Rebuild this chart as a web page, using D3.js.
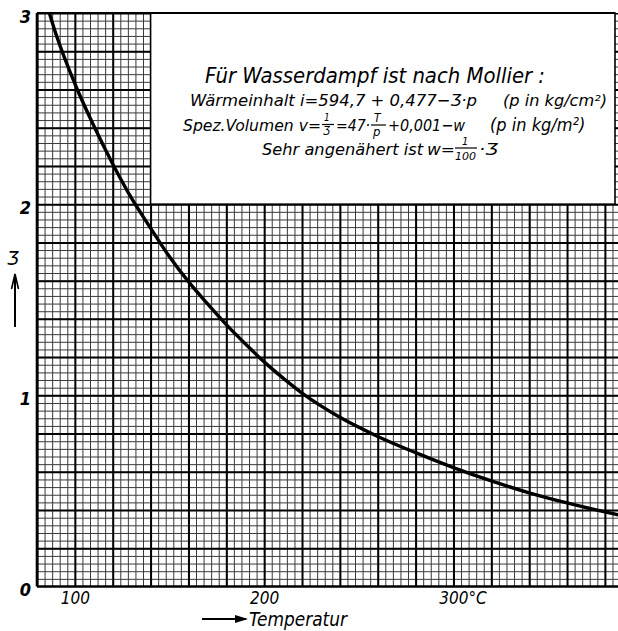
<!DOCTYPE html>
<html><head><meta charset="utf-8">
<script src="https://cdn.jsdelivr.net/npm/d3@7"></script>
<style>
html,body{margin:0;padding:0;background:#fff;}
text{font-family:"DejaVu Sans Condensed","Liberation Sans Narrow","DejaVu Sans",sans-serif;font-style:italic;fill:#000;}
</style></head>
<body>
<svg id="c" width="618" height="631"></svg>
<script>
// ---- data ----
const temperatures = [85, 90, 100, 110, 120, 130, 140, 150, 160, 170, 180, 190, 200, 210, 220, 230, 240, 260, 280, 300, 320, 340, 360, 380, 390];
const jValues      = [3.05, 2.89, 2.63, 2.41, 2.21, 2.03, 1.875, 1.725, 1.595, 1.48, 1.37, 1.27, 1.175, 1.09, 1.012, 0.945, 0.885, 0.785, 0.70, 0.622, 0.552, 0.49, 0.437, 0.39, 0.368];
const xTickValues = [100, 200, 300];
const xTickLabels = ["100", "200", "300"];
const yTickValues = [0, 1, 2, 3];
const yTickLabels = ["0", "1", "2", "3"];
const xAxisTitle = "Temperatur";
const unitLabel = "°C";
const yAxisTitle = "Ʒ";

const svg = d3.select("#c");
const W = 618, H = 631;
const x = d3.scaleLinear().domain([80, 400]).range([37, 37 + 320 * 1.893]);
const y = d3.scaleLinear().domain([0, 3]).range([586.5, 13]);
const plotH = y(0) - y(3);

svg.append("defs").append("clipPath").attr("id", "plot")
  .append("rect").attr("x", x(80)).attr("y", y(3)).attr("width", W - x(80)).attr("height", plotH);

const g = svg.append("g").attr("clip-path", "url(#plot)");

const minorX = d3.range(80, 400.001, 4);
const minorY = d3.range(0, 3.0001, 0.04);
const majorX = d3.range(80, 400.001, 20);
const majorY = d3.range(0, 3.0001, 0.2);

function grid(vals, isX, w, col) {
  const ax = isX ? d3.axisBottom(x).tickValues(vals).tickSize(-plotH).tickFormat("")
                 : d3.axisLeft(y).tickValues(vals).tickSize(-(W - x(80))).tickFormat("");
  const gg = g.append("g")
    .attr("transform", isX ? `translate(0,${y(0)})` : `translate(${x(80)},0)`)
    .call(ax);
  gg.select(".domain").remove();
  gg.selectAll("line").attr("stroke", col).attr("stroke-width", w);
}
grid(minorX, true, 1, "#3a3a3a");
grid(minorY, false, 1, "#3a3a3a");
grid(majorX, true, 2, "#000");
grid(majorY, false, 2, "#000");

// text box (white, covering the grid)
const bx0 = x(140), bx1 = 615, by0 = y(3), by1 = y(2);
svg.append("rect").attr("x", bx0).attr("y", by0).attr("width", bx1 - bx0).attr("height", by1 - by0)
  .attr("fill", "#fff").attr("stroke", "#000").attr("stroke-width", 1.6);

// curve
const line = d3.line().x((d, i) => x(temperatures[i])).y(d => y(d)).curve(d3.curveMonotoneX);
g.append("path").datum(jValues).attr("d", line).attr("fill", "none")
  .attr("stroke", "#000").attr("stroke-width", 3.4).attr("stroke-linecap", "round");

// frame lines
svg.append("line").attr("x1", x(80)).attr("x2", x(80)).attr("y1", y(3)).attr("y2", y(0)).attr("stroke", "#000").attr("stroke-width", 2.6);
svg.append("line").attr("x1", x(80)).attr("x2", W).attr("y1", y(0)).attr("y2", y(0)).attr("stroke", "#000").attr("stroke-width", 2.6);
svg.append("line").attr("x1", x(80)).attr("x2", bx1).attr("y1", y(3)).attr("y2", y(3)).attr("stroke", "#000").attr("stroke-width", 2);

// axes labels
const xa = svg.append("g").attr("transform", `translate(0,${y(0)})`)
  .call(d3.axisBottom(x).tickValues(xTickValues).tickSize(0).tickPadding(0)
    .tickFormat((d, i) => xTickLabels[i]));
xa.select(".domain").remove();
xa.selectAll("text").attr("font-size", 17).attr("dy", 0).attr("y", 17)
  .style("font-family", null);
svg.append("text").attr("x", x(300) + 15).attr("y", y(0) + 17).attr("font-size", 17).text(unitLabel);

const ya = svg.append("g").attr("transform", `translate(${x(80)},0)`)
  .call(d3.axisLeft(y).tickValues(yTickValues).tickSize(0).tickPadding(0)
    .tickFormat((d, i) => yTickLabels[i]));
ya.select(".domain").remove();
ya.selectAll("text").attr("font-size", 18).attr("font-weight", "bold")
  .attr("x", -6).attr("dy", "0.5em").style("font-family", null);

// y axis title + arrow
svg.append("text").attr("x", 13).attr("y", 265).attr("text-anchor", "middle").attr("font-size", 20).text(yAxisTitle);
svg.append("line").attr("x1", 15).attr("x2", 15).attr("y1", 327).attr("y2", 275).attr("stroke", "#000").attr("stroke-width", 2);
svg.append("path").attr("d", "M11.5,289 L15,274 L18.5,289").attr("fill", "none").attr("stroke", "#000").attr("stroke-width", 1.6);

// x axis title + arrow
svg.append("line").attr("x1", 202).attr("x2", 246).attr("y1", 619).attr("y2", 619).attr("stroke", "#000").attr("stroke-width", 1.8);
svg.append("path").attr("d", "M235,615 L248,619 L235,623 Z").attr("fill", "#000");
svg.append("text").attr("x", 249).attr("y", 626).attr("font-size", 19).attr("textLength", 98).attr("lengthAdjust", "spacingAndGlyphs").text(xAxisTitle);

// box text
function t(xx, yy, size, str, len) {
  const e = svg.append("text").attr("x", xx).attr("y", yy).attr("font-size", size).text(str);
  if (len) e.attr("textLength", len).attr("lengthAdjust", "spacingAndGlyphs");
  return e;
}
function bar(x1, x2, yy) {
  svg.append("line").attr("x1", x1).attr("x2", x2).attr("y1", yy).attr("y2", yy).attr("stroke", "#000").attr("stroke-width", 1.2);
}
t(205, 83, 21, "Für Wasserdampf ist nach Mollier :", 340);
t(190, 106, 16, "Wärmeinhalt i=594,7 + 0,477−Ʒ·p", 287);
t(503, 106, 16, "(p in kg/cm²)", 104);
t(183, 131, 16, "Spez.Volumen v=", 138);
t(324, 121, 10, "1"); bar(322, 334, 124.5); t(323, 135, 12, "Ʒ");
t(336, 131, 16, "=47·", 34);
t(374, 122, 12, "T"); bar(371, 386, 125); t(373, 136, 13, "p");
t(388, 131, 16, "+0,001−w", 77);
t(490, 131, 18, "(p in kg/m²)");
t(262, 155, 16, "Sehr angenähert ist", 161);
t(427, 155, 16, "w=", 28);
t(462, 145, 11, "1"); bar(455, 477, 148); t(455, 160, 11, "100", 21);
t(479, 155, 16, "·Ʒ", 19);
</script>
</body></html>
